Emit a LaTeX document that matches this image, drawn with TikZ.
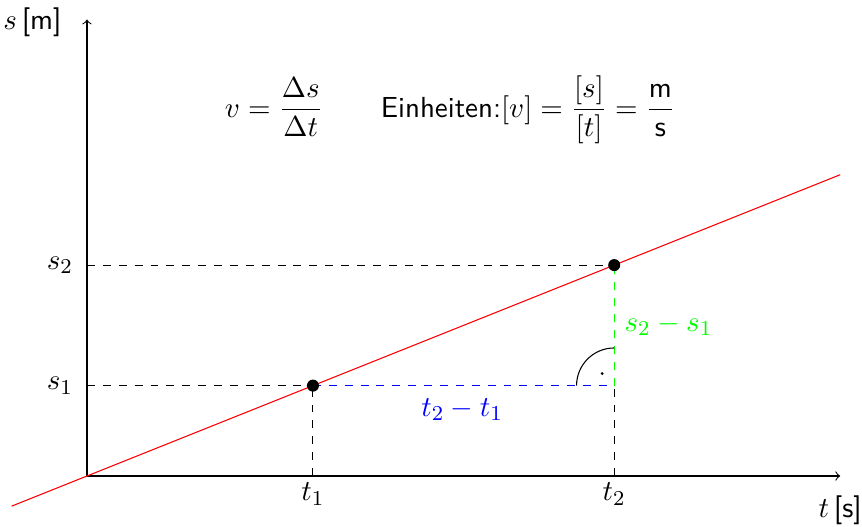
\documentclass[tikz,border=0pt]{standalone}
\usepackage{amsmath}
\begin{document}
\begin{tikzpicture}[x=1cm,y=1cm,
  every node/.style={font=\fontsize{10.95}{13}\selectfont},
  axis/.style={->, thin},
  guide/.style={dashed, thin},
  pt/.style={circle, fill=black, inner sep=0pt, minimum size=0.16cm},
  lbl/.style={inner sep=0pt, font=\fontsize{10.95}{13}\selectfont\sffamily}]
\useasboundingbox (-1.155,-0.664) rectangle (10.29,6.32);
% axes
\coordinate (O) at (0,0);
\coordinate (xe) at (10,0);
\coordinate (ye) at (0,6.06);
\draw[axis] (O) -- (xe);
\draw[axis] (O) -- (ye);
\node[lbl, anchor=east] (ylab) at (-0.33,6.03) {$s$\,[m]};
\node[lbl] (xlab) at (10.0,-0.45) {$t$\,[s]};
% graph
\coordinate (la) at (-1,-0.4);
\coordinate (lb) at (10,4);
\draw[red] (la) -- (lb);
\coordinate (P1) at (3,1.2);
\coordinate (P2) at (7,2.8);
\coordinate (T1) at (3,0);
\coordinate (T2) at (7,0);
\coordinate (S1) at (0,1.2);
\coordinate (S2) at (0,2.8);
\coordinate (C) at (7,1.2);
\draw[guide] (S1) -- (P1);
\draw[guide] (T1) -- (P1);
\draw[guide] (S2) -- (P2);
\draw[guide] (T2) -- (C);
\draw[guide, gray] (C) -- (P2);
\draw[guide, blue] (P1) -- (C);
\draw[guide, green] (C) -- (P2);
\node[pt] (p1) at (P1) {};
\node[pt] (p2) at (P2) {};
% tick labels
\node (t1) at (3,-0.24) {$t_1$};
\node (t2) at (7,-0.24) {$t_2$};
\node (s1) at (-0.36,1.2) {$s_1$};
\node (s2) at (-0.36,2.8) {$s_2$};
% differences
\node[blue] (dt) at (4.98,0.88) {$t_2 - t_1$};
\node[green] (ds) at (7.72,2.0) {$s_2 - s_1$};
% right angle
\draw (6.5,1.2) arc (180:90:0.5);
\fill (6.84,1.36) circle (0.02);
% formula
\node[lbl] (f) at (4.82,4.86) {$v = \dfrac{\Delta s}{\Delta t}$\qquad Einheiten:$[v] = \dfrac{[s]}{[t]} = \dfrac{\mathsf{m}}{\mathsf{s}}$};
\end{tikzpicture}
\end{document}
